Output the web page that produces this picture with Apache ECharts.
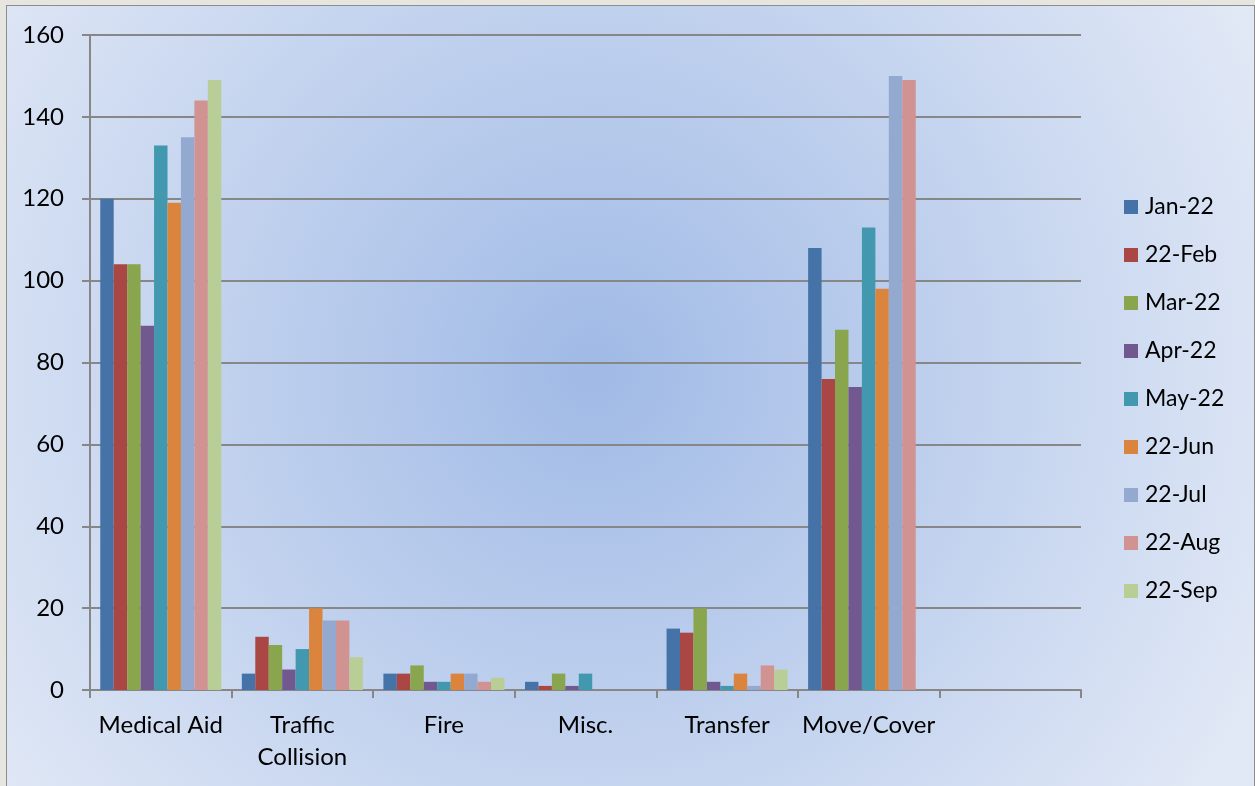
<!DOCTYPE html>
<html>
<head>
<meta charset="utf-8">
<script src="https://cdn.jsdelivr.net/npm/echarts@6/dist/echarts.min.js"></script>
<style>
  html, body { margin: 0; padding: 0; background: #e7e5e0; overflow: hidden; }
  #chart { position: absolute; left: 6px; top: 5px; width: 1247px; height: 790px; border: 1px solid #8d8d8d; }
</style>
</head>
<body>
<div id="chart"></div>
<script>
// categories (the 7th slot is empty in the original)
var categories = ["Medical Aid", "Traffic\nCollision", "Fire", "Misc.", "Transfer", "Move/Cover", ""];
var months = ["Jan-22", "22-Feb", "Mar-22", "Apr-22", "May-22", "22-Jun", "22-Jul", "22-Aug", "22-Sep"];
var colors = ["#4572a7", "#aa4643", "#89a54e", "#71588f", "#4198af", "#db843d", "#93a9cf", "#d19392", "#b9cd96"];

var jan = [120, 4, 4, 2, 15, 108, null];
var feb = [104, 13, 4, 1, 14, 76, null];
var mar = [104, 11, 6, 4, 20, 88, null];
var apr = [89, 5, 2, 1, 2, 74, null];
var may = [133, 10, 2, 4, 1, 113, null];
var jun = [119, 20, 4, 0, 4, 98, null];
var jul = [135, 17, 4, 0, 1, 150, null];
var aug = [144, 17, 2, 0, 6, 149, null];
var sep = [149, 8, 3, 0, 5, 0, null];
var seriesValues = [jan, feb, mar, apr, may, jun, jul, aug, sep];

var chart = echarts.init(document.getElementById("chart"));
var font = "Lato, 'Open Sans', sans-serif";

var series = months.map(function (m, i) {
	return {
		name: m,
		type: "bar",
		data: seriesValues[i],
		barGap: "0%",
		barCategoryGap: "14.5%",
		itemStyle: { color: colors[i] }
	};
});

chart.setOption({
	animation: false,
	backgroundColor: new echarts.graphic.RadialGradient(0.47, 0.46, 0.95, [
		{ offset: 0, color: "#a0bae6" },
		{ offset: 1, color: "#e2e9f6" }
	]),
	textStyle: { fontFamily: font },
	grid: { left: 83, top: 29, width: 991, height: 655, containLabel: false },
	legend: {
		orient: "vertical",
		left: 1112,
		top: 183,
		itemWidth: 14,
		itemHeight: 14,
		itemGap: 22,
		icon: "rect",
		data: months,
		textStyle: { fontFamily: font, fontSize: 23, color: "#000", lineHeight: 26, padding: [0, 0, 0, 2] }
	},
	xAxis: {
		type: "category",
		data: categories,
		axisLine: { lineStyle: { color: "#878787", width: 2 } },
		axisTick: { show: true, interval: 0, length: 8, lineStyle: { color: "#878787", width: 2 } },
		axisLabel: { interval: 0, fontSize: 24, color: "#000", margin: 19, lineHeight: 32, fontFamily: font }
	},
	yAxis: {
		type: "value",
		min: 0,
		max: 160,
		interval: 20,
		axisLine: { show: true, lineStyle: { color: "#878787", width: 2 } },
		axisTick: { show: true, length: 8, lineStyle: { color: "#878787", width: 2 } },
		axisLabel: { fontSize: 24, color: "#000", margin: 26, fontFamily: font },
		splitLine: { lineStyle: { color: "#878787", width: 2 } }
	},
	series: series
});
</script>
</body>
</html>
